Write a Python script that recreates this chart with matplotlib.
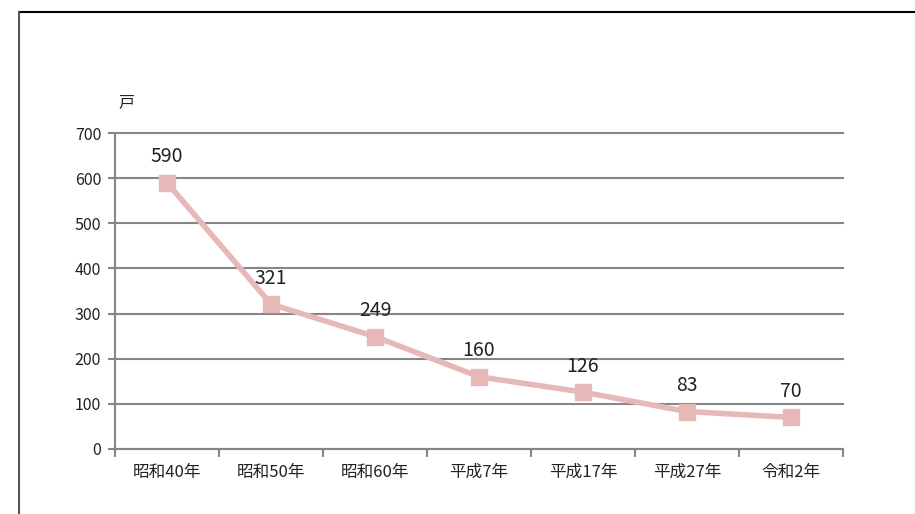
import matplotlib.pyplot as plt
from matplotlib.lines import Line2D
import numpy as np

plt.rcParams['font.family'] = ['Noto Sans CJK JP', 'DejaVu Sans']

# data
years = ['昭和40年', '昭和50年', '昭和60年', '平成7年', '平成17年', '平成27年', '令和2年']
households = [590, 321, 249, 160, 126, 83, 70]
y_ticks = [0, 100, 200, 300, 400, 500, 600, 700]

fig = plt.figure(figsize=(9.15, 5.14), dpi=100)
ax = fig.add_axes([0.1257, 0.1265, 0.7956, 0.6147])

x = np.arange(len(years))
line_col = '#E6B9B8'
grid_col = '#868686'

ax.plot(x, households, color=line_col, linewidth=4, marker='s', markersize=11,
        zorder=3)
for xi, v in zip(x, households):
    ax.annotate(str(v), (xi, v), xytext=(0, 11), textcoords='offset points',
                ha='center', va='bottom', fontsize=14, color='#222222')

ax.set_xlim(-0.5, len(years) - 0.5)
ax.set_ylim(0, 700)
ax.set_yticks(y_ticks)
ax.set_xticks(x)
ax.set_xticklabels(years)
ax.set_xticks(np.arange(len(years) + 1) - 0.5, minor=True)

ax.yaxis.grid(True, color=grid_col, linewidth=1.5)
for gl in ax.get_ygridlines():
    gl.set_clip_on(False)
ax.set_axisbelow(True)
for s in ['top', 'right']:
    ax.spines[s].set_visible(False)
for s in ['left', 'bottom']:
    ax.spines[s].set_color(grid_col)
    ax.spines[s].set_linewidth(1.5)

ax.tick_params(axis='x', which='major', length=0, pad=11, labelsize=12,
               colors='#222222')
ax.tick_params(axis='x', which='minor', length=6, width=1.5, color=grid_col)
ax.tick_params(axis='y', length=5, width=1.5, color=grid_col, labelsize=11.5,
               labelcolor='#222222', pad=5)

fig.text(118 / 915, 1 - 103 / 514, '戸', fontsize=11.5, color='#222222',
         ha='left', va='center')

# outer frame (top and left edges)
fig.add_artist(Line2D([19 / 915, 1.0], [1 - 12 / 514, 1 - 12 / 514],
                      color='black', linewidth=1.5, transform=fig.transFigure))
fig.add_artist(Line2D([19 / 915, 19 / 915], [0, 1 - 12 / 514],
                      color='#555555', linewidth=1.5, transform=fig.transFigure))

fig.savefig('out.png', dpi=100)
